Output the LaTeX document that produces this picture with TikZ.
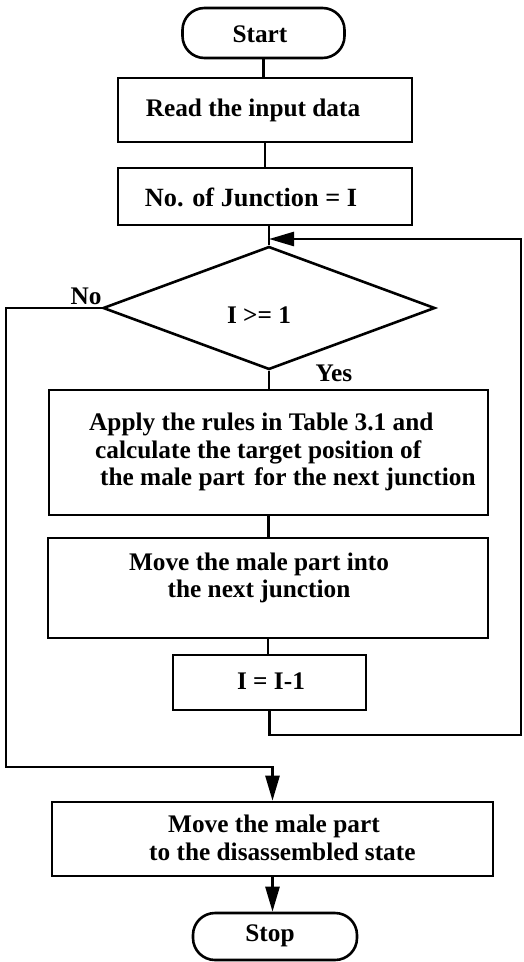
\documentclass[tikz,border=0pt]{standalone}
\usepackage{fontspec}
\setmainfont{Liberation Serif}
\usetikzlibrary{shapes.geometric,arrows.meta}
\begin{document}
\begin{tikzpicture}[x=1pt,y=-1pt,
  every node/.style={font=\bfseries\fontsize{25.3}{27.5}\selectfont},
  box/.style={draw,line width=2.6pt,inner sep=0pt,rectangle},
  pill/.style={draw,line width=2.6pt,inner sep=0pt,rectangle,rounded corners=22pt},
  conn/.style={line width=2.6pt},
  arr/.style={line width=2.6pt,-{Triangle[length=25pt,width=14pt]}},
  lbl/.style={inner sep=0pt}]
\useasboundingbox (0,0) rectangle (523,962);
\node[pill,minimum width=162pt,minimum height=50pt] (start) at (263.5,33) {};
\node[lbl] (startt) at (260,34) {Start};
\node[box,minimum width=294pt,minimum height=64pt] (box1) at (265,110) {};
\node[lbl] (box1t) at (253,110) {Read the input data};
\node[box,minimum width=294pt,minimum height=57pt] (box2) at (265,196.5) {};
\node[lbl] (box2t) at (251,197) {\fontsize{26.3}{28}\selectfont No. of Junction = I};
\node[draw,diamond,line width=2.6pt,inner sep=0pt,minimum width=332pt,minimum height=123pt] (dia) at (269,308) {};
\node[lbl] (cond) at (259,315) {I >= 1};
\node[lbl] (no) at (86,296) {No};
\node[lbl] (yes) at (334,373) {Yes};
\node[box,minimum width=439pt,minimum height=125pt] (apply) at (268.5,452.5) {};
\node[lbl,anchor=west,align=left] (applyt) at (89,452) {Apply the rules in Table 3.1 and\\\hspace*{6pt}calculate the target position of\\\hspace*{11pt}the male part\hspace{3pt} for the next junction};
\node[box,minimum width=440pt,minimum height=100pt] (move) at (268,588) {};
\node[lbl,align=center] (movet) at (259,578) {Move the male part into\\the next junction};
\node[box,minimum width=193pt,minimum height=55pt] (dec) at (269.5,682.5) {};
\node[lbl] (dect) at (271,681) {I = I-1};
\node[box,minimum width=441pt,minimum height=74pt] (fin) at (272.5,839) {};
\node[lbl,anchor=west,align=left] (fint) at (149,838) {\hspace*{19pt}Move the male part\\to the disassembled state};
\node[pill,minimum width=164pt,minimum height=47pt] (stop) at (275,936.5) {};
\node[lbl] (stopt) at (270,936) {Stop};
\coordinate (lb) at (521,735);
\coordinate (lt) at (521,239);
\coordinate (nl) at (6,767);
\draw[conn] (start.south) -- (start.south |- box1.north);
\draw[conn] (box1.south) -- (box2.north);
\draw[conn] (dia.north |- box2.south) -- (dia.north);
\draw[conn] (dia.south) -- (dia.south |- apply.north);
\draw[conn] (apply.south) -- (apply.south |- move.north);
\draw[conn] (move.south) -- (move.south |- dec.north);
\draw[arr] (dec.south) |- (lb) -- (lt) -- (dia.north |- lt);
\draw[arr] (dia.west) -| (nl) -| (fin.north);
\draw[arr] (fin.south) -- (fin.south |- stop.north);
\end{tikzpicture}
\end{document}
